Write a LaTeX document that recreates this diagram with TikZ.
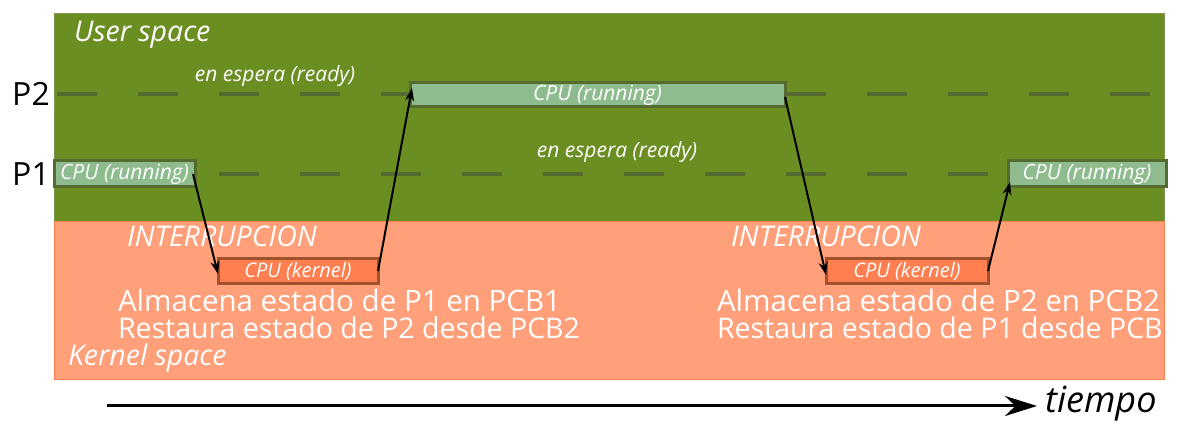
\documentclass[tikz,border=0pt]{standalone}
\usepackage{fontspec}
\setmainfont{Open Sans}
\usetikzlibrary{arrows.meta,calc}
\definecolor{usergreen}{RGB}{107,142,35}
\definecolor{userborder}{RGB}{128,150,80}
\definecolor{dashgreen}{RGB}{85,107,47}
\definecolor{kernsalmon}{RGB}{255,160,122}
\definecolor{kernborder}{RGB}{255,127,80}
\definecolor{runfill}{RGB}{143,188,143}
\definecolor{kfill}{RGB}{255,127,80}
\definecolor{kborder}{RGB}{160,82,45}
\tikzset{
  wtxt/.style={text=white, inner sep=0pt, outer sep=0pt},
  itx/.style={wtxt, font=\fontsize{#1}{#1}\selectfont\itshape},
  runbox/.style={draw=dashgreen, fill=runfill, line width=3pt, inner sep=0pt, outer sep=0pt, text=white, font=\fontsize{21}{21}\selectfont\itshape},
  kernbox/.style={draw=kborder, fill=kfill, line width=3pt, inner sep=0pt, outer sep=0pt, text=white, font=\fontsize{20}{20}\selectfont\itshape},
  procline/.style={draw=dashgreen, line width=4pt, dash pattern=on 40pt off 41pt},
  arr/.style={draw=black, line width=2pt, -{Stealth[length=13pt,width=9pt]}},
  timearr/.style={draw=black, line width=3pt, -{Stealth[length=32pt,width=20pt]}},
  bigtxt/.style={wtxt, anchor=west, font=\fontsize{#1}{#1}\selectfont},
}
\begin{document}
\begin{tikzpicture}[x=1pt,y=-1pt]
\useasboundingbox (0,0) rectangle (1179,435);
% regions
\fill[usergreen, draw=userborder, line width=1pt] (54,14) rectangle (1164,222);
\fill[kernsalmon, draw=kernborder, line width=1pt] (54,222) rectangle (1164,380);
\node[itx=28.5, anchor=west] (us) at (74,35) {User space};
\node[itx=28.5, anchor=west] (ks) at (68,358) {Kernel space};
% process labels
\node[inner sep=0pt, anchor=east, font=\fontsize{32}{32}\selectfont] (p2) at (50,94) {P2};
\node[inner sep=0pt, anchor=east, font=\fontsize{32}{32}\selectfont] (p1) at (50,174) {P1};
% timelines
\coordinate (l2a) at (57,94); \coordinate (l2b) at (1162,94);
\coordinate (l1a) at (57,174); \coordinate (l1b) at (1162,174);
\draw[procline] (l2a) -- (l2b);
\draw[procline] (l1a) -- (l1b);
\node[itx=21] (w2) at (275,76) {en espera (ready)};
\node[itx=21] (w1) at (617,152) {en espera (ready)};
% boxes
\node[runbox, minimum width=141pt, minimum height=26pt] (r1a) at (124.5,174) {CPU (running)};
\node[runbox, minimum width=375pt, minimum height=24pt] (r2) at (597.5,95) {CPU (running)};
\node[runbox, minimum width=158pt, minimum height=26pt] (r1b) at (1087,174) {CPU (running)};
\node[kernbox, minimum width=160pt, minimum height=25pt] (k1) at (298,271) {CPU (kernel)};
\node[kernbox, minimum width=162pt, minimum height=25pt] (k2) at (907,271) {CPU (kernel)};
% kernel texts
\node[itx=28.5, anchor=west] (i1) at (127,236) {INTERRUPCION};
\node[itx=28.5, anchor=west] (i2) at (731,236) {INTERRUPCION};
\node[bigtxt=29.5] (a1) at (118,300) {Almacena estado de P1 en PCB1};
\node[bigtxt=28.5] (b1) at (118,328) {Restaura estado de P2 desde PCB2};
\node[bigtxt=29.5] (a2) at (717,300) {Almacena estado de P2 en PCB2};
\node[bigtxt=28.5] (b2) at (717,328) {Restaura estado de P1 desde PCB};
% transitions
\draw[arr] ([xshift=-2pt]r1a.east) -- ([yshift=-3pt]k1.west);
\draw[arr] (k1.east) -- ([xshift=2pt,yshift=-5pt]r2.north west);
\draw[arr] ([yshift=-2pt]r2.east) -- ([yshift=-4pt]k2.west);
\draw[arr] (k2.east) -- ([xshift=2pt,yshift=5pt]r1b.south west);
% time axis
\coordinate (t0) at (107,406);
\coordinate (t1) at (1037,406);
\draw[timearr] (t0) -- (t1);
\node[inner sep=0pt, anchor=west, font=\fontsize{36}{36}\selectfont\itshape] (tm) at (1045,404) {tiempo};
\end{tikzpicture}
\end{document}
